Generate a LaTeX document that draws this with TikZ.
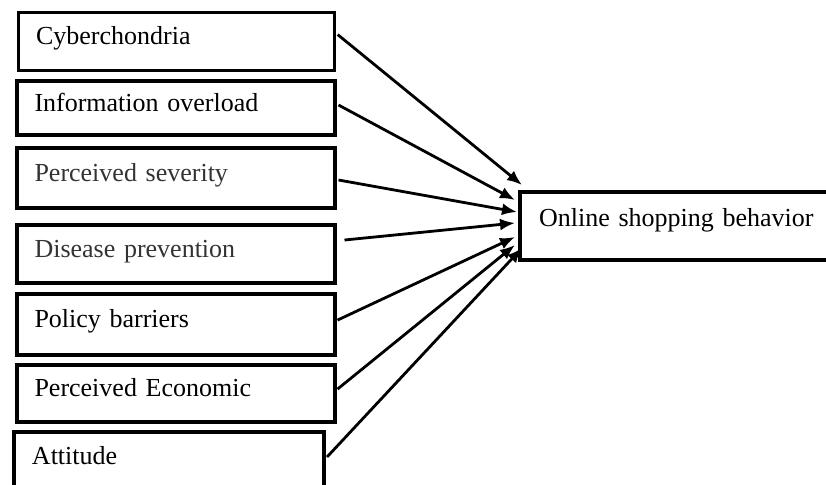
\documentclass[tikz,border=0pt]{standalone}
\usepackage{fontspec}
\setmainfont{Liberation Serif}
\usetikzlibrary{arrows.meta}
\begin{document}
\begin{tikzpicture}[x=0.5pt,y=-0.5pt,>={Latex[length=7.5pt,width=6pt]},
	fattore/.style={draw, line width=2pt, anchor=north west, minimum height=29pt,
		text width=141pt, inner xsep=9pt, align=left, text height=0.7em, text depth=0.4em,
		font=\fontsize{13}{15}\selectfont},
	esito/.style={draw, line width=2.2pt, anchor=north west, minimum height=34pt,
		text width=147pt, inner xsep=9.5pt, align=left, text height=0.7em, text depth=0.7em,
		font=\fontsize{13}{15}\selectfont},
	freccia/.style={->, line width=1.4pt},
	]
	\clip (0,0) rectangle (826,484);
	% ── Fattori ──
	\node[fattore, line width=1.6pt, text width=140pt] (cyb) at (16.5,10.5) {Cyberchondria};
	\node[fattore, minimum height=27pt] (inf) at (14.5,79) {Information overload};
	\node[fattore, minimum height=30pt, text=black!80] (sev) at (14.5,146) {Perceived severity};
	\node[fattore, text=black!80] (dis) at (14.5,223) {Disease prevention};
	\node[fattore, minimum height=30.5pt] (pol) at (14.5,292) {Policy barriers};
	\node[fattore, minimum height=28.5pt] (eco) at (14.5,363) {Perceived Economic};
	\node[fattore, text width=137pt] (att) at (12,430) {Attitude};
	% ── Esito ──
	\node[esito] (osb) at (518,190) {Online shopping behavior};
	% ── Frecce ──
	\draw[freccia] ([xshift=1pt,yshift=3.25pt]cyb.east) -- ([xshift=2pt,yshift=2.5pt]osb.north west);
	\draw[freccia] ([xshift=1pt,yshift=1.5pt]inf.east) -- ([xshift=-1.5pt,yshift=-5pt]osb.north west);
	\draw[freccia] ([xshift=1pt,yshift=-1pt]sev.east) -- ([xshift=-0.5pt,yshift=-11pt]osb.north west);
	\draw[freccia] ([xshift=4pt,yshift=7pt]dis.east) -- ([xshift=-1.5pt,yshift=-16.5pt]osb.north west);
	\draw[freccia] ([xshift=0.5pt,yshift=2.2pt]pol.east) -- ([xshift=-1.5pt,yshift=-23.5pt]osb.north west);
	\draw[freccia] ([xshift=0.5pt,yshift=2.2pt]eco.east) -- ([xshift=-1.5pt,yshift=-27.5pt]osb.north west);
	\draw[freccia] ([xshift=0.5pt,yshift=2pt]att.east) -- ([xshift=2pt,yshift=-29pt]osb.north west);
\end{tikzpicture}
\end{document}
